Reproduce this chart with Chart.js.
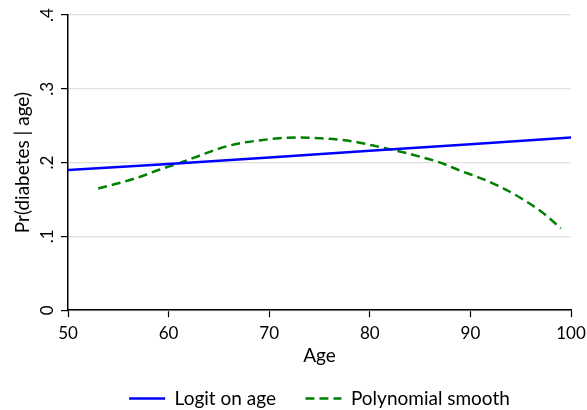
<!DOCTYPE html>
<html>
<head>
<meta charset="utf-8">
<script src="https://cdn.jsdelivr.net/npm/chart.js@4.4.1/dist/chart.umd.min.js"></script>
<style>
  body { margin: 0; background: #fff; }
  #wrap { width: 587px; height: 410px; }
</style>
</head>
<body>
<div id="wrap"><canvas id="myChart"></canvas></div>
<script>
// values
const logitAge = [50, 60, 70, 80, 90, 100];
const logitProb = [0.190, 0.198, 0.207, 0.216, 0.225, 0.234];

const smoothAge = [53, 55, 57, 59, 61, 63, 65, 67, 69, 71, 73, 75, 77, 79, 81, 83, 85, 87, 89, 91, 93, 95, 97, 99];
const smoothProb = [0.165, 0.172, 0.180, 0.190, 0.199, 0.209, 0.219, 0.226, 0.230, 0.233, 0.234, 0.233,
                    0.231, 0.227, 0.221, 0.215, 0.208, 0.200, 0.189, 0.179, 0.167, 0.152, 0.134, 0.111];

const yTicks = [0, 0.1, 0.2, 0.3, 0.4];
const yTickLabels = ['0', '.1', '.2', '.3', '.4'];
const xTicks = [50, 60, 70, 80, 90, 100];

const seriesNames = ['Logit on age', 'Polynomial smooth'];

Chart.defaults.font.family = "Lato, 'Open Sans', sans-serif";
Chart.defaults.color = '#000';

const data = {
    datasets: [{
        label: seriesNames[0],
        data: logitAge.map((a, i) => ({ x: a, y: logitProb[i] })),
        borderColor: '#0000ff',
        backgroundColor: '#0000ff',
        borderWidth: 2.5,
        pointRadius: 0,
        tension: 0
    }, {
        label: seriesNames[1],
        data: smoothAge.map((a, i) => ({ x: a, y: smoothProb[i] })),
        borderColor: '#008000',
        backgroundColor: '#008000',
        borderWidth: 2.5,
        borderDash: [9, 5],
        pointRadius: 0,
        cubicInterpolationMode: 'monotone'
    }]
};

const config = {
    type: 'line',
    data: data,
    options: {
        responsive: true,
        maintainAspectRatio: false,
        animation: false,
        layout: { padding: { left: 8, right: 16, top: 15, bottom: 0 } },
        scales: {
            x: {
                type: 'linear',
                min: 50,
                max: 100,
                afterBuildTicks: (s) => { s.ticks = xTicks.map(v => ({ value: v })); },
                afterFit: (s) => { s.paddingLeft = 0; s.paddingRight = 0; },
                ticks: { font: { size: 17, lineHeight: 1 }, padding: 7.5, maxRotation: 0 },
                grid: { drawOnChartArea: false, tickLength: 7, tickColor: '#000', tickWidth: 1.2 },
                border: { color: '#000', width: 1.5 },
                title: { display: true, text: 'Age', font: { size: 19 }, padding: { top: -5, bottom: 12 } }
            },
            y: {
                min: 0,
                max: 0.4,
                afterBuildTicks: (s) => { s.ticks = yTicks.map(v => ({ value: v })); },
                afterFit: (s) => { s.width = 60; s.paddingTop = 0; },
                ticks: {
                    font: { size: 17 },
                    minRotation: 90,
                    maxRotation: 90,
                    crossAlign: 'center',
                    padding: 7,
                    callback: (v) => yTickLabels[yTicks.indexOf(v)] ?? ''
                },
                grid: { color: '#e0e0e0', lineWidth: 1.2, tickLength: 7, tickColor: '#000', tickWidth: 1.2 },
                border: { color: '#000', width: 1.5 },
                title: { display: true, text: 'Pr(diabetes | age)', font: { size: 19 }, padding: { top: 3, bottom: 0 } }
            }
        },
        plugins: {
            legend: {
                position: 'bottom',
                fullSize: false,
                maxHeight: 31,
                labels: {
                    usePointStyle: true,
                    pointStyle: 'line',
                    pointStyleWidth: 36,
                    font: { size: 19 },
                    padding: 10,
                    color: '#000',
                    generateLabels: (chart) => {
                        const items = Chart.defaults.plugins.legend.labels.generateLabels(chart);
                        items.forEach((it, i) => {
                            const ds = chart.data.datasets[it.datasetIndex];
                            it.lineDash = ds.borderDash || [];
                            it.lineWidth = ds.borderWidth;
                            it.strokeStyle = ds.borderColor;
                            if (i < items.length - 1) it.text = it.text + '    ';
                        });
                        return items;
                    }
                }
            },
            tooltip: { enabled: false }
        }
    }
};

const myChart = new Chart(document.getElementById('myChart'), config);
</script>
</body>
</html>
